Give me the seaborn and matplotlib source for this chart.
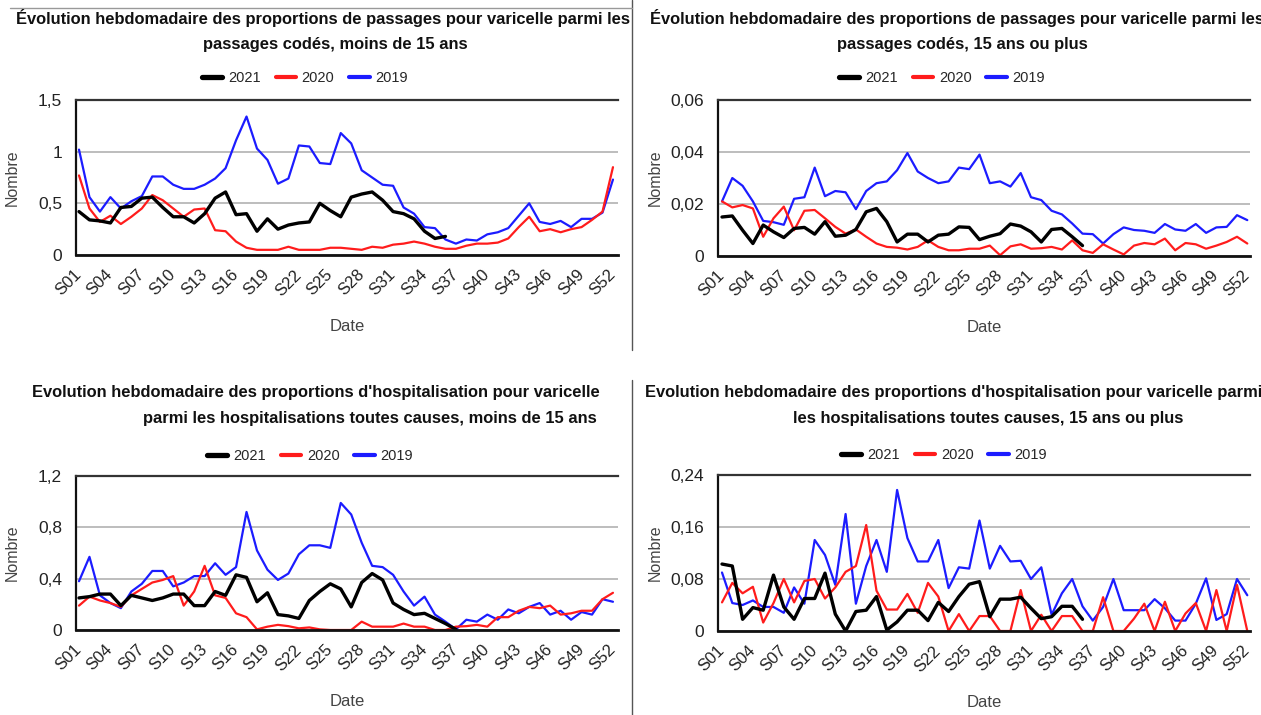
import numpy as np
import pandas as pd
import matplotlib
matplotlib.use('Agg')
import matplotlib.pyplot as plt
from matplotlib import font_manager
from matplotlib.lines import Line2D
import seaborn as sns

# Semaines
weeks = list(range(1, 53))
tick_weeks = weeks[::3]
tick_labels = ['S%02d' % w for w in tick_weeks]
years = ['2021', '2020', '2019']

# Passages, moins de 15 ans
pas_m15_2019 = [1.02, 0.56, 0.42, 0.56, 0.45, 0.52, 0.57, 0.76, 0.76, 0.68,
                0.64, 0.64, 0.68, 0.74, 0.84, 1.11, 1.34, 1.03, 0.92, 0.69,
                0.74, 1.06, 1.05, 0.89, 0.88, 1.18, 1.08, 0.82, 0.75, 0.68,
                0.67, 0.46, 0.40, 0.27, 0.26, 0.15, 0.11, 0.15, 0.14, 0.20,
                0.22, 0.26, 0.38, 0.50, 0.32, 0.30, 0.33, 0.27, 0.35, 0.35,
                0.41, 0.73]
pas_m15_2020 = [0.77, 0.45, 0.32, 0.38, 0.30, 0.37, 0.45, 0.58, 0.53, 0.45,
                0.37, 0.44, 0.45, 0.24, 0.23, 0.13, 0.07, 0.05, 0.05, 0.05,
                0.08, 0.05, 0.05, 0.05, 0.07, 0.07, 0.06, 0.05, 0.08, 0.07,
                0.10, 0.11, 0.13, 0.11, 0.08, 0.06, 0.06, 0.09, 0.11, 0.11,
                0.12, 0.16, 0.27, 0.37, 0.23, 0.25, 0.22, 0.25, 0.27, 0.34,
                0.42, 0.85]
pas_m15_2021 = [0.42, 0.34, 0.33, 0.31, 0.46, 0.47, 0.55, 0.56, 0.46, 0.37,
                0.37, 0.31, 0.40, 0.55, 0.61, 0.39, 0.40, 0.23, 0.35, 0.25,
                0.29, 0.31, 0.32, 0.50, 0.43, 0.37, 0.56, 0.59, 0.61, 0.53,
                0.42, 0.40, 0.35, 0.23, 0.16, 0.18]

# Passages, 15 ans ou plus
pas_p15_2019 = [0.021, 0.030, 0.027, 0.021, 0.0135, 0.013, 0.012, 0.022, 0.0226, 0.034,
                0.023, 0.025, 0.0245, 0.018, 0.025, 0.028, 0.0287, 0.033, 0.0396, 0.0325,
                0.030, 0.028, 0.0287, 0.034, 0.0334, 0.039, 0.028, 0.0287, 0.0267, 0.0319,
                0.0226, 0.0215, 0.0174, 0.016, 0.0125, 0.0086, 0.0084, 0.0048, 0.0084, 0.011,
                0.010, 0.0097, 0.0089, 0.0123, 0.0102, 0.0097, 0.0123, 0.0089, 0.011, 0.0112,
                0.0157, 0.0138]
pas_p15_2020 = [0.021, 0.0187, 0.0196, 0.0183, 0.0074, 0.0145, 0.019, 0.0099, 0.0174, 0.0177,
                0.0145, 0.0112, 0.0086, 0.0102, 0.0074, 0.0048, 0.0035, 0.0032, 0.0025, 0.0035,
                0.006, 0.0035, 0.0022, 0.0022, 0.0028, 0.0028, 0.004, 0.0003, 0.0037, 0.0045,
                0.0028, 0.003, 0.0035, 0.0025, 0.006, 0.0022, 0.0012, 0.0045, 0.0025, 0.0006,
                0.004, 0.005, 0.0045, 0.0067, 0.0022, 0.005, 0.0045, 0.0028, 0.004, 0.0054,
                0.0074, 0.0048]
pas_p15_2021 = [0.015, 0.0154, 0.0099, 0.0048, 0.0119, 0.0093, 0.0071, 0.0106, 0.011, 0.0084,
                0.0132, 0.0076, 0.008, 0.0102, 0.017, 0.0183, 0.0132, 0.0054, 0.0084, 0.0084,
                0.0054, 0.008, 0.0084, 0.0112, 0.011, 0.0063, 0.0076, 0.0086, 0.0123, 0.0115,
                0.0093, 0.0054, 0.0102, 0.0106, 0.0074, 0.004]

# Hospitalisations, moins de 15 ans
hosp_m15_2019 = [0.38, 0.57, 0.27, 0.21, 0.17, 0.30, 0.36, 0.46, 0.46, 0.34,
                 0.37, 0.42, 0.42, 0.52, 0.43, 0.49, 0.92, 0.62, 0.47, 0.39,
                 0.44, 0.59, 0.66, 0.66, 0.64, 0.99, 0.90, 0.68, 0.50, 0.49,
                 0.43, 0.30, 0.19, 0.26, 0.12, 0.065, 0.005, 0.08, 0.065, 0.12,
                 0.08, 0.16, 0.13, 0.18, 0.21, 0.12, 0.15, 0.08, 0.14, 0.12,
                 0.24, 0.22]
hosp_m15_2020 = [0.19, 0.26, 0.23, 0.21, 0.18, 0.27, 0.32, 0.37, 0.39, 0.42,
                 0.19, 0.30, 0.50, 0.27, 0.25, 0.13, 0.10, 0.005, 0.026, 0.04,
                 0.03, 0.013, 0.02, 0.005, 0.0, 0.0, 0.0, 0.065, 0.026, 0.026,
                 0.026, 0.05, 0.026, 0.026, 0.0, 0.0, 0.026, 0.03, 0.04, 0.026,
                 0.10, 0.10, 0.15, 0.18, 0.17, 0.19, 0.12, 0.13, 0.15, 0.15,
                 0.24, 0.29]
hosp_m15_2021 = [0.25, 0.26, 0.28, 0.28, 0.19, 0.27, 0.25, 0.23, 0.25, 0.28,
                 0.28, 0.19, 0.19, 0.30, 0.27, 0.43, 0.41, 0.22, 0.29, 0.12,
                 0.11, 0.09, 0.23, 0.30, 0.36, 0.32, 0.18, 0.37, 0.44, 0.39,
                 0.21, 0.16, 0.12, 0.13, 0.09, 0.05, 0.005]

# Hospitalisations, 15 ans ou plus
hosp_p15_2019 = [0.090, 0.043, 0.040, 0.047, 0.037, 0.037, 0.028, 0.067, 0.042, 0.140,
                 0.117, 0.071, 0.180, 0.042, 0.100, 0.140, 0.091, 0.217, 0.143, 0.107,
                 0.107, 0.140, 0.066, 0.098, 0.096, 0.170, 0.096, 0.131, 0.107, 0.108,
                 0.080, 0.098, 0.025, 0.058, 0.080, 0.038, 0.016, 0.037, 0.080, 0.032,
                 0.032, 0.032, 0.049, 0.035, 0.016, 0.016, 0.042, 0.081, 0.017, 0.026,
                 0.080, 0.055]
hosp_p15_2020 = [0.044, 0.074, 0.058, 0.068, 0.013, 0.043, 0.080, 0.044, 0.077, 0.080,
                 0.050, 0.067, 0.091, 0.100, 0.163, 0.062, 0.033, 0.033, 0.057, 0.028,
                 0.074, 0.053, 0.0, 0.026, 0.0, 0.023, 0.023, 0.0, 0.0, 0.063,
                 0.0, 0.025, 0.0, 0.023, 0.023, 0.0, 0.0, 0.052, 0.0, 0.0,
                 0.019, 0.042, 0.0, 0.045, 0.0, 0.027, 0.043, 0.0, 0.063, 0.0,
                 0.071, 0.0]
hosp_p15_2021 = [0.103, 0.100, 0.018, 0.036, 0.032, 0.086, 0.037, 0.018, 0.050, 0.050,
                 0.089, 0.026, 0.0, 0.030, 0.032, 0.053, 0.0015, 0.014, 0.032, 0.032,
                 0.016, 0.044, 0.030, 0.053, 0.072, 0.076, 0.022, 0.049, 0.049, 0.052,
                 0.035, 0.019, 0.022, 0.038, 0.038, 0.018]

# Axes y
yt_pas_m15 = [0, 0.5, 1, 1.5]
yl_pas_m15 = ['0', '0,5', '1', '1,5']
yt_pas_p15 = [0, 0.02, 0.04, 0.06]
yl_pas_p15 = ['0', '0,02', '0,04', '0,06']
yt_hosp_m15 = [0, 0.4, 0.8, 1.2]
yl_hosp_m15 = ['0', '0,4', '0,8', '1,2']
yt_hosp_p15 = [0, 0.08, 0.16, 0.24]
yl_hosp_p15 = ['0', '0,08', '0,16', '0,24']

colors = {'2021': '#000000', '2020': '#ff1c1c', '2019': '#1c1cff'}
widths = {'2021': 2.4, '2020': 1.6, '2019': 1.6}


def long_df(s2021, s2020, s2019):
    rows = []
    for year, s in zip(years, (s2021, s2020, s2019)):
        rows.append(pd.DataFrame({'semaine': weeks[:len(s)], 'valeur': s, 'annee': year}))
    return pd.concat(rows, ignore_index=True)


sns.set_theme(style='white')
plt.rcParams['font.family'] = ['Liberation Sans', 'DejaVu Sans']
installed = {f.name for f in font_manager.fontManager.ttflist}
if 'Liberation Sans Narrow' in installed:
    title_font = ['Liberation Sans Narrow', 'DejaVu Sans']
else:
    title_font = ['Liberation Sans', 'DejaVu Sans']

W, H = 1261, 715
fig = plt.figure(figsize=(12.61, 7.15), dpi=100)

panels = [
    dict(df=long_df(pas_m15_2021, pas_m15_2020, pas_m15_2019), box=(76, 100, 618, 255),
         x0=79, step=10.47, yt=yt_pas_m15, yl=yl_pas_m15, leg=(305, 78), ylab=20),
    dict(df=long_df(pas_p15_2021, pas_p15_2020, pas_p15_2019), box=(718, 100, 1250, 256),
         x0=722, step=10.3, yt=yt_pas_p15, yl=yl_pas_p15, leg=(942, 78), ylab=663),
    dict(df=long_df(hosp_m15_2021, hosp_m15_2020, hosp_m15_2019), box=(76, 476, 618, 630),
         x0=79, step=10.47, yt=yt_hosp_m15, yl=yl_hosp_m15, leg=(310, 456), ylab=20),
    dict(df=long_df(hosp_p15_2021, hosp_p15_2020, hosp_p15_2019), box=(718, 475, 1250, 631),
         x0=722, step=10.3, yt=yt_hosp_p15, yl=yl_hosp_p15, leg=(944, 455), ylab=663),
]

for p in panels:
    l, t, r, b = p['box']
    ax = fig.add_axes([l / W, 1 - b / H, (r - l) / W, (b - t) / H])
    df = p['df']
    for year in ['2019', '2020', '2021']:
        sns.lineplot(data=df[df['annee'] == year], x='semaine', y='valeur', ax=ax,
                     color=colors[year], linewidth=widths[year], legend=False)
    ax.set_xlim(1 - (p['x0'] - l) / p['step'], 1 + (r - p['x0']) / p['step'])
    ax.set_ylim(p['yt'][0], p['yt'][-1])
    ax.set_yticks(p['yt'])
    ax.set_yticklabels(p['yl'], fontsize=12.5, color='#222222')
    ax.set_xticks(tick_weeks)
    ax.set_xticklabels(tick_labels, rotation=45, ha='right', va='center',
                       rotation_mode='anchor', fontsize=12, color='#222222')
    ax.tick_params(axis='x', direction='inout', length=7, width=1.4, color='black', pad=9)
    ax.tick_params(axis='y', length=0, pad=10)
    ax.yaxis.grid(True, color='#b8b8b8', linewidth=1.3)
    ax.set_axisbelow(True)
    for side in ['left', 'bottom', 'top']:
        ax.spines[side].set_visible(True)
        ax.spines[side].set_color('#111111')
    ax.spines['left'].set_linewidth(1.6)
    ax.spines['bottom'].set_linewidth(2.0)
    ax.spines['top'].set_linewidth(1.6)
    ax.spines['top'].set_color('#333333')
    ax.spines['right'].set_visible(False)
    ax.set_ylabel('Nombre', fontsize=11.5, color='#444444')
    ax.yaxis.set_label_coords((p['ylab'] - l) / (r - l), 0.5)
    ax.set_xlabel('Date', fontsize=12, color='#444444')
    ax.xaxis.set_label_coords(0.5, -64 / (b - t))

    handles = [Line2D([], [], color=colors[y], linewidth=widths[y] + 1.4) for y in years]
    fig.legend(handles, years, loc='center', ncol=3, frameon=False, fontsize=10.5,
               handlelength=1.4, handletextpad=0.4, columnspacing=1.0,
               bbox_to_anchor=(p['leg'][0] / W, 1 - p['leg'][1] / H))

# Titres
titles = [
    ('Évolution hebdomadaire des proportions de passages pour varicelle parmi les', 323, 18, 'center'),
    ('passages codés, moins de 15 ans', 335, 45, 'center'),
    ('Évolution hebdomadaire des proportions de passages pour varicelle parmi les', 650, 18, 'left'),
    ('passages codés, 15 ans ou plus', 962, 45, 'center'),
    ("Evolution hebdomadaire des proportions d'hospitalisation pour varicelle", 316, 393, 'center'),
    ('parmi les hospitalisations toutes causes, moins de 15 ans', 370, 418, 'center'),
    ("Evolution hebdomadaire des proportions d'hospitalisation pour varicelle parmi", 645, 393, 'left'),
    ('les hospitalisations toutes causes, 15 ans ou plus', 988, 418, 'center'),
]

# taille de titre ajustee a la largeur de la premiere ligne (610 px dans l'original)
renderer = fig.canvas.get_renderer()
probe = fig.text(0, 0, titles[0][0], fontsize=12, fontweight='bold', family=title_font)
title_size = 12 * 610 / probe.get_window_extent(renderer).width
probe.remove()

for txt, x, y, ha in titles:
    fig.text(x / W, 1 - y / H, txt, ha=ha, va='center', fontsize=title_size,
             fontweight='bold', family=title_font, color='#111111')

# Cadres de la capture
fig.add_artist(Line2D([632 / W, 632 / W], [1, 1 - 350 / H], transform=fig.transFigure,
                      color='#555555', linewidth=1))
fig.add_artist(Line2D([632 / W, 632 / W], [1 - 380 / H, 0], transform=fig.transFigure,
                      color='#555555', linewidth=1))
fig.add_artist(Line2D([10 / W, 632 / W], [1 - 8 / H, 1 - 8 / H], transform=fig.transFigure,
                      color='#999999', linewidth=1))

fig.savefig('out.png', dpi=100)
